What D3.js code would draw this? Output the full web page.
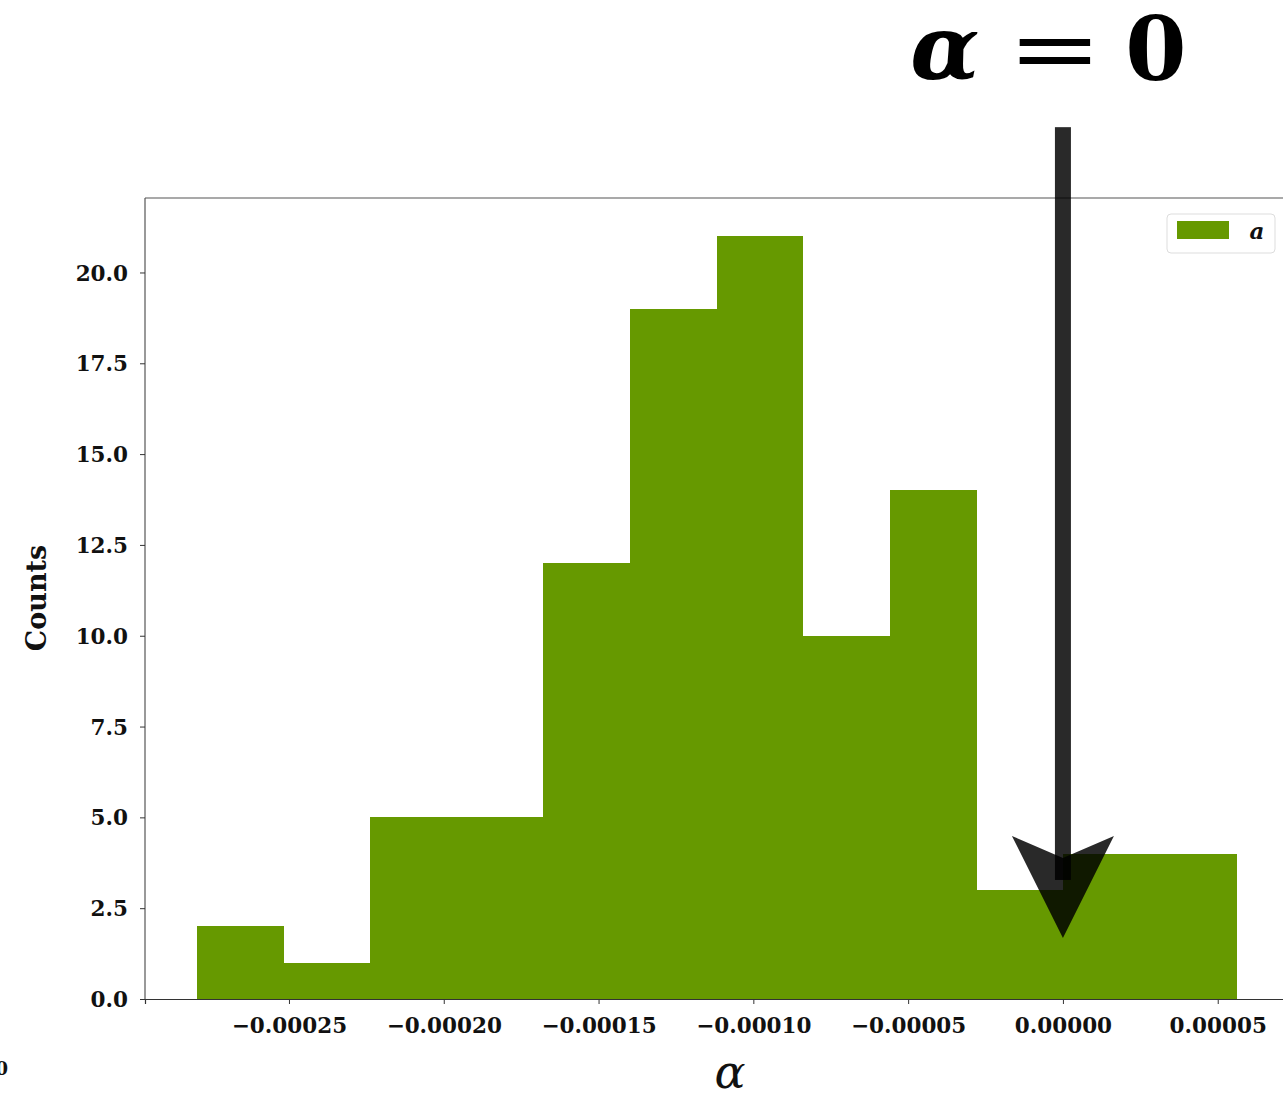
<!DOCTYPE html>
<html>
<head>
<meta charset="utf-8">
<script src="https://cdn.jsdelivr.net/npm/d3@7"></script>
<style>
  body { margin: 0; background: #fff; }
  svg { display: block; }
  .tick text { font-family: "DejaVu Serif", serif; font-weight: bold; }
</style>
</head>
<body>
<div class="container"></div>
<script>
// histogram bins (edges in alpha units) and counts per bin
const binEdges = [-0.0002798, -0.0002519, -0.0002238, -0.0001959, -0.0001679, -0.0001400,
    -0.0001119, -0.0000841, -0.0000560, -0.0000278, 0.0000000, 0.0000280, 0.0000560];
const counts = [2, 1, 5, 5, 12, 19, 21, 10, 14, 3, 4, 4];
const xTicks = [-0.00025, -0.0002, -0.00015, -0.0001, -0.00005, 0, 0.00005];
const yTicks = [0, 2.5, 5, 7.5, 10, 12.5, 15, 17.5, 20];
const xDomain = [-0.0002965, 0.0000727];
const yDomain = [0, 22.05];
const arrowFrom = 24.0, arrowTo = 1.68;   // annotation arrow, y in counts units at alpha = 0

const width = 1283, height = 1098;
const margin = {left: 145, top: 198, right: 1288, bottom: 999};
const green = '#669900';

const x = d3.scaleLinear().domain(xDomain).range([margin.left, margin.right]);
const y = d3.scaleLinear().domain(yDomain).range([margin.bottom, margin.top]);

const svg = d3.select('.container').append('svg')
    .attr('width', width)
    .attr('height', height);

const bins = counts.map((c, i) => ({x0: binEdges[i], x1: binEdges[i + 1], count: c}));

svg.append('g')
    .attr('shape-rendering', 'crispEdges')
    .selectAll('rect')
    .data(bins)
    .enter()
    .append('rect')
    .attr('x', d => x(d.x0))
    .attr('width', d => x(d.x1) - x(d.x0) + 0.6)
    .attr('y', d => y(d.count))
    .attr('height', d => y(0) - y(d.count))
    .attr('fill', green);

// frame
svg.append('line').attr('x1', margin.left).attr('x2', width).attr('y1', margin.top).attr('y2', margin.top)
    .attr('stroke', '#555').attr('stroke-width', 1.2);
svg.append('line').attr('x1', margin.left).attr('x2', margin.left).attr('y1', margin.top).attr('y2', margin.bottom)
    .attr('stroke', '#555').attr('stroke-width', 1.2);

const fmtX = v => (v < 0 ? '\u2212' : '') + Math.abs(v).toFixed(5);

const xAxis = svg.append('g')
    .attr('transform', `translate(0,${margin.bottom})`)
    .call(d3.axisBottom(x).tickValues(xTicks).tickFormat(fmtX).tickSizeOuter(0).tickSize(5).tickPadding(14));
xAxis.select('.domain').attr('stroke', '#333').attr('stroke-width', 1.2);
xAxis.selectAll('.tick line').attr('stroke', '#333');
xAxis.selectAll('.tick text').attr('font-size', 21.5).attr('fill', '#111');

const yAxis = svg.append('g')
    .attr('transform', `translate(${margin.left},0)`)
    .call(d3.axisLeft(y).tickValues(yTicks).tickFormat(d3.format('.1f')).tickSizeOuter(0).tickSize(5).tickPadding(12));
yAxis.select('.domain').remove();
yAxis.selectAll('.tick line').attr('stroke', '#333');
yAxis.selectAll('.tick text').attr('font-size', 21.5).attr('fill', '#111').attr('dy', '0.35em');

// stray offset label at bottom left
svg.append('text')
    .attr('x', 8).attr('y', 1075)
    .attr('text-anchor', 'end')
    .attr('font-family', 'DejaVu Serif, serif').attr('font-weight', 'bold')
    .attr('font-size', 18).attr('fill', '#111')
    .text('0');

// axis labels
svg.append('text')
    .attr('x', 730).attr('y', 1088)
    .attr('text-anchor', 'middle')
    .attr('font-family', 'DejaVu Serif, serif').attr('font-style', 'italic')
    .attr('font-size', 46).attr('fill', '#111')
    .text('\u03b1');

svg.append('text')
    .attr('transform', 'translate(46,598) rotate(-90)')
    .attr('text-anchor', 'middle')
    .attr('font-family', 'DejaVu Serif, serif').attr('font-weight', 'bold')
    .attr('font-size', 27).attr('fill', '#111')
    .text('Counts');

// legend
const legend = svg.append('g').attr('id', 'legend');
legend.append('rect')
    .attr('x', 1167).attr('y', 214).attr('width', 108).attr('height', 39)
    .attr('rx', 4).attr('fill', '#fff').attr('fill-opacity', 0.8)
    .attr('stroke', '#ddd');
legend.append('rect')
    .attr('x', 1177).attr('y', 221).attr('width', 52).attr('height', 18)
    .attr('fill', green);
legend.append('text')
    .attr('x', 1257).attr('y', 239)
    .attr('text-anchor', 'middle')
    .attr('font-family', 'DejaVu Serif, serif').attr('font-weight', 'bold').attr('font-style', 'italic')
    .attr('font-size', 23).attr('fill', '#111')
    .text('a');

// annotation arrow
const ax = x(0);
const tailY = y(arrowFrom), tipY = y(arrowTo);
const headLen = 102, headHalf = 51, shaft = 16;
const arrow = svg.append('g').attr('fill', '#000').attr('fill-opacity', 0.84);
arrow.append('rect')
    .attr('x', ax - shaft / 2).attr('y', tailY)
    .attr('width', shaft).attr('height', tipY - headLen + 44 - tailY);
arrow.append('path')
    .attr('d', `M${ax - headHalf},${tipY - headLen} L${ax},${tipY - headLen + 22} L${ax + headHalf},${tipY - headLen} L${ax},${tipY} Z`);

// "alpha = 0" annotation text, pieces placed around the arrow
const title = svg.append('g')
    .attr('font-family', 'DejaVu Serif, serif')
    .attr('fill', '#000')
    .attr('text-anchor', 'middle');
title.append('text')
    .attr('x', ax - 118).attr('y', 79)
    .attr('font-size', 90).attr('font-style', 'italic').attr('font-weight', 'bold')
    .text('\u03b1');
title.append('text')
    .attr('transform', `translate(${ax - 8},80) scale(1.25,1)`)
    .attr('font-size', 90).attr('font-weight', 'normal')
    .text('=');
title.append('text')
    .attr('x', ax + 93).attr('y', 80)
    .attr('font-size', 88).attr('font-weight', 'bold')
    .text('0');
</script>
</body>
</html>
